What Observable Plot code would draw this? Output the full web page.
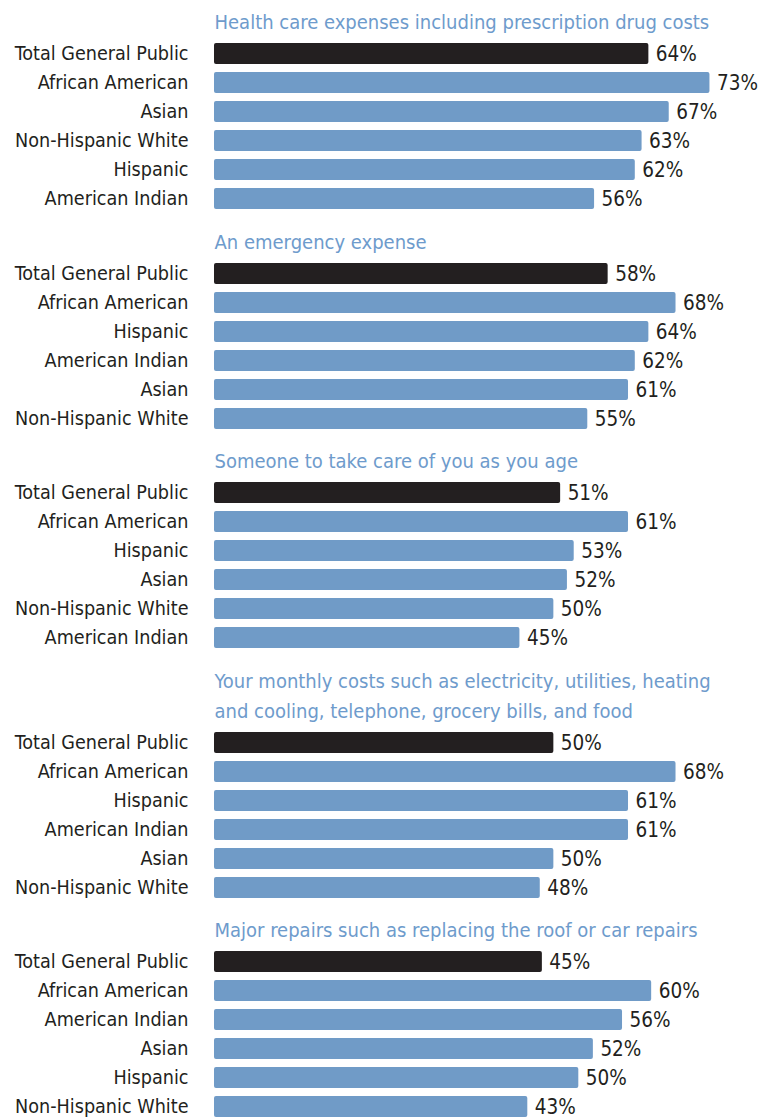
<!DOCTYPE html>
<html><head><meta charset="utf-8">
<script src="https://cdn.jsdelivr.net/npm/d3@7"></script>
<script src="https://cdn.jsdelivr.net/npm/@observablehq/plot@0.6"></script>
<style>
body{margin:0;background:#fff;}
#chart svg{display:block;}
</style></head><body><div id="chart"></div>
<script>
const titles = [
  "Health care expenses including prescription drug costs",
  "An emergency expense",
  "Someone to take care of you as you age",
  "Your monthly costs such as electricity, utilities, heating\nand cooling, telephone, grocery bills, and food",
  "Major repairs such as replacing the roof or car repairs"
];
const categories = [
  ["Total General Public", "African American", "Asian", "Non-Hispanic White", "Hispanic", "American Indian"],
  ["Total General Public", "African American", "Hispanic", "American Indian", "Asian", "Non-Hispanic White"],
  ["Total General Public", "African American", "Hispanic", "Asian", "Non-Hispanic White", "American Indian"],
  ["Total General Public", "African American", "Hispanic", "American Indian", "Asian", "Non-Hispanic White"],
  ["Total General Public", "African American", "American Indian", "Asian", "Hispanic", "Non-Hispanic White"]
];
const values = [
  [64, 73, 67, 63, 62, 56],
  [58, 68, 64, 62, 61, 55],
  [51, 61, 53, 52, 50, 45],
  [50, 68, 61, 61, 50, 48],
  [45, 60, 56, 52, 50, 43]
];
const xMax = [80.3, 80.3, 80.3, 80.3, 74.8];

const FONT = '"Liberation Sans Narrow", "DejaVu Sans Condensed", sans-serif';
const container = document.getElementById("chart");
titles.forEach((title, g) => {
  const lines = title.split("\n").length;
  const rows = categories[g].map((c, i) => ({category: c, value: values[g][i], label: values[g][i] + "%", total: i === 0}));
  const marginTop = 39 + (lines - 1) * 30;
  const marginBottom = 6.5;
  const height = marginTop + 174 + marginBottom;
  const plot = Plot.plot({
    width: 759, height, marginLeft: 214, marginRight: 0, marginTop, marginBottom,
    style: {fontFamily: FONT, background: "#fff", color: "#231f20", overflow: "visible"},
    x: {domain: [0, xMax[g]], axis: null},
    y: {domain: categories[g], axis: null, paddingInner: 0.26, paddingOuter: 0.13},
    marks: [
      Plot.barX(rows, {y: "category", x: "value", fill: d => d.total ? "#231f20" : "#709bc7", rx: 2}),
      Plot.text(rows, {y: "category", x: "value", text: "label", textAnchor: "start", dx: 7, fontSize: 20.5, fill: "#231f20"}),
      Plot.text(rows, {y: "category", x: 0, text: "category", textAnchor: "end", dx: -26, fontSize: 19.6, fill: "#231f20"}),
      Plot.text([title], {frameAnchor: "top-left", text: d => d, textAnchor: "start", lineAnchor: "middle", dy: -20 - (lines - 1) * 15, fontSize: 20, lineHeight: 30 / 20, fill: "#6e9bcc"})
    ]
  });
  container.appendChild(plot);
});
</script></body></html>
